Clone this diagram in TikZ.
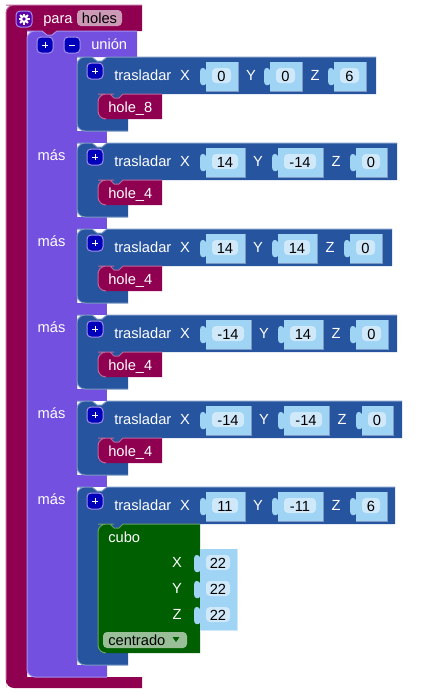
\documentclass[tikz,border=0pt]{standalone}
\usepackage{fontspec}
\usetikzlibrary{calc}
\setmainfont{Liberation Sans}
\definecolor{parafarbe}{HTML}{8F0050}
\definecolor{pararand}{HTML}{BC669A}
\definecolor{parafeld}{HTML}{CC99B6}
\definecolor{unionfarbe}{HTML}{7350E0}
\definecolor{unionrand}{HTML}{A58FEC}
\definecolor{trasfarbe}{HTML}{26549E}
\definecolor{trasrand}{HTML}{7C98C5}
\definecolor{cubofarbe}{HTML}{005F00}
\definecolor{cuborand}{HTML}{66A066}
\definecolor{cubofeld}{HTML}{99BF99}
\definecolor{wertfarbe}{HTML}{A0D4F5}
\definecolor{feldfarbe}{HTML}{D0E9FA}
\definecolor{knopffarbe}{HTML}{0000BB}
\definecolor{zahnfarbe}{HTML}{5A00A8}
\tikzset{
	txt/.style={inner sep=0pt,text=white,font=\fontsize{11}{13}\selectfont},
	txtl/.style={txt,anchor=base west},
	txtc/.style={txt,anchor=base},
	wertrand/.style={line width=0.75pt,color=trasrand},
	knopf/.style={fill=knopffarbe,draw=unionrand,line width=0.75pt,rounded corners=3pt},
	randlinie/.style={line width=0.75pt,color=#1}
}
% x, y, width, text, name
\def\wert#1#2#3#4#5{
	\fill[wertfarbe] (#1,#2)--({#1+#3},#2)--({#1+#3},{#2+29})--(#1,{#2+29})--(#1,{#2+22})
	.. controls ({#1-2},{#2+24}) and ({#1-6},{#2+24}) .. ({#1-6},{#2+19})--({#1-6},{#2+10})
	.. controls ({#1-6},{#2+5}) and ({#1-2},{#2+5}) .. (#1,{#2+8})--cycle;
	\draw[wertrand] ({#1+#3},#2)--({#1+#3},{#2+29})--(#1,{#2+29});
	\fill[feldfarbe,rounded corners=3pt] ({#1+6},{#2+6}) rectangle ({#1+#3-7},{#2+21});
	\node[txtc,text=black] (#5) at ({#1+(#3-1)/2},{#2+19}) {#4};
}
% x, y, name
\def\plusknopf#1#2#3{
	\draw[knopf] (#1,#2) rectangle ({#1+16},{#2+16});
	\coordinate (#3) at ({#1+8},{#2+8});
	\draw[white,line width=0.75pt] ($(#3)+(-3,0)$)--($(#3)+(3,0)$);
	\draw[white,line width=0.75pt] ($(#3)+(0,-3)$)--($(#3)+(0,3)$);
}
% top, right end, then the widths and values
\def\innen{62}
\def\trasladar#1#2#3#4#5#6#7#8#9{
	\fill[trasfarbe] (77,{#1+8})[rounded corners=6pt]--(77,#1)--(85,#1)[sharp corners]--(92,#1)--(97,{#1+4})--(102,{#1+4})--(107,#1)--(#2,#1)--(#2,{#1+37})
	--(123,{#1+37})--(119,{#1+41})--(114,{#1+41})--(110,{#1+37})--(98,{#1+37})--(98,{#1+\innen})--(128,{#1+\innen})--(128,{#1+\innen+12})--(85,{#1+\innen+12})[rounded corners=6pt]--(77,{#1+\innen+12})--(77,{#1+\innen+4})[sharp corners]--cycle;
	\fill[trasfarbe] (98,{#1+37}) rectangle (106,{#1+45});
	\fill[trasfarbe] (98,{#1+\innen-8}) rectangle (106,{#1+\innen});
	\draw[randlinie=trasrand] (128,{#1+\innen+12})--(85,{#1+\innen+12})[rounded corners=6pt]--(77,{#1+\innen+12})--(77,#1)--(85,#1)[sharp corners]--(92,#1)--(97,{#1+4})--(102,{#1+4})--(107,#1)--(#2,#1);
	\plusknopf{87}{#1+6}{plus#1}
	\node[txtl] (tras#1) at (114,{#1+23}) {trasladar};
	\node[txtc] (x#1) at (185,{#1+23}) {X};
	\wert{206}{#1+5}{#3}{#4}{xw#1}
	\node[txtc] (y#1) at ({206+#3+13},{#1+23}) {Y};
	\wert{#5}{#1+5}{#6}{#7}{yw#1}
	\node[txtc] (z#1) at ({#5+#6+13},{#1+23}) {Z};
	\wert{#8}{#1+5}{#9}{\zwert}{zw#1}
}
% top, text
\def\hole#1#2{
	\fill[parafarbe] (98,{#1+8})[rounded corners=6pt]--(98,#1)--(106,#1)[sharp corners]--(110,#1)--(114,{#1+4})--(119,{#1+4})--(123,#1)--(162,#1)--(162,{#1+25})--(106,{#1+25})[rounded corners=6pt]--(98,{#1+25})--(98,{#1+17})[sharp corners]--cycle;
	\draw[randlinie=pararand] (106,{#1+25})[rounded corners=6pt]--(98,{#1+25})--(98,#1)--(106,#1)[sharp corners]--(110,#1)--(114,{#1+4})--(119,{#1+4})--(123,#1)--(162,#1);
	\node[txtl] (hole#1) at (108,{#1+18}) {#2};
}
\begin{document}
\begin{tikzpicture}[x=0.75pt,y=-0.75pt]
\useasboundingbox (0,0) rectangle (438,694);

% para
\fill[parafarbe] (6,13)[rounded corners=6pt]--(6,5)--(14,5)[sharp corners]--(142,5)--(142,31)--(57,31)--(52,35)--(47,35)--(42,31)--(27,31)--(27,677)--(142,677)--(142,688)--(14,688)[rounded corners=6pt]--(6,688)--(6,680)[sharp corners]--cycle;
\draw[randlinie=pararand] (6,680)[rounded corners=6pt]--(6,5)--(14,5)[sharp corners]--(142,5);
\draw[knopf,fill=zahnfarbe] (16,11) rectangle (32,27);
\coordinate (gear) at (24,19);
\foreach \a in {0,45,...,315}{
	\draw[white,line width=1.5pt] (gear)--++(\a:5.5);
}
\fill[white] (gear) circle (3pt);
\fill[zahnfarbe] (gear) circle (1.4pt);
\node[txtl] (para) at (43,23) {para};
\fill[parafeld,rounded corners=3pt] (77,10) rectangle (122,26);
\node[txtc,text=black] (holes) at (99.5,23) {holes};

% union
\fill[unionfarbe] (27,39)[rounded corners=6pt]--(27,31)--(35,31)[sharp corners]--(42,31)--(47,35)--(52,35)--(57,31)--(137,31)--(137,57)--(77,57)--(77,665)--(107,665)--(107,677)--(35,677)[rounded corners=6pt]--(27,677)--(27,669)[sharp corners]--cycle;
\foreach \t in {131,217,303,389,475}{
	\fill[unionfarbe] (77,\t) rectangle (107,{\t+12});
}
\draw[randlinie=unionrand] (107,677)--(35,677)[rounded corners=6pt]--(27,677)--(27,31)--(35,31)[sharp corners]--(42,31)--(47,35)--(52,35)--(57,31)--(137,31);
\plusknopf{37}{37}{plusu}
\draw[knopf] (64,37) rectangle (80,53);
\coordinate (minusu) at (72,45);
\draw[white,line width=0.75pt] ($(minusu)+(-3,0)$)--($(minusu)+(3,0)$);
\node[txtl] (union) at (91,49) {unión};
\foreach \t in {156,242,328,414,500}{
	\node[txtc] (mas\t) at (51.5,{\t+4}) {más};
}

% trasladar
\def\zwert{6}
\trasladar{57}{376}{32}{0}{270}{32}{0}{334}{32}
\def\zwert{0}
\trasladar{143}{397}{39}{14}{278}{45}{-14}{356}{31}
\trasladar{229}{392}{39}{14}{278}{39}{14}{350}{32}
\trasladar{315}{397}{45}{-14}{284}{39}{14}{356}{32}
\trasladar{401}{402}{45}{-14}{284}{45}{-14}{362}{31}
\def\zwert{6}
\def\innen{166}
\trasladar{487}{395}{39}{11}{278}{45}{-11}{356}{31}

\hole{94}{hole\_8}
\hole{180}{hole\_4}
\hole{266}{hole\_4}
\hole{352}{hole\_4}
\hole{438}{hole\_4}

% cubo
\fill[cubofarbe] (98,532)[rounded corners=6pt]--(98,524)--(106,524)[sharp corners]--(110,524)--(114,528)--(119,528)--(123,524)--(200,524)--(200,653)--(106,653)[rounded corners=6pt]--(98,653)--(98,645)[sharp corners]--cycle;
\draw[randlinie=cuborand] (106,653)[rounded corners=6pt]--(98,653)--(98,524)--(106,524)[sharp corners]--(110,524)--(114,528)--(119,528)--(123,524)--(200,524);
\node[txtl] (cubo) at (108,542) {cubo};
\begin{scope}[wertrand/.style={line width=0.75pt,color=feldfarbe}]
\foreach \n/\t/\b in {X/549/567,Y/575/593,Z/601/619}{
	\wert{200}{\t}{37}{22}{val\n}
	\node[txtc] (lab\n) at (177,\b) {\n};
}
\end{scope}
\fill[cubofeld,rounded corners=3pt] (103,632) rectangle (187,648);
\node[txtl,text=black] (centrado) at (108,645) {centrado};
\fill[cubofarbe] (172.5,637)--(179.5,637)--(176,642)--cycle;

\end{tikzpicture}
\end{document}
